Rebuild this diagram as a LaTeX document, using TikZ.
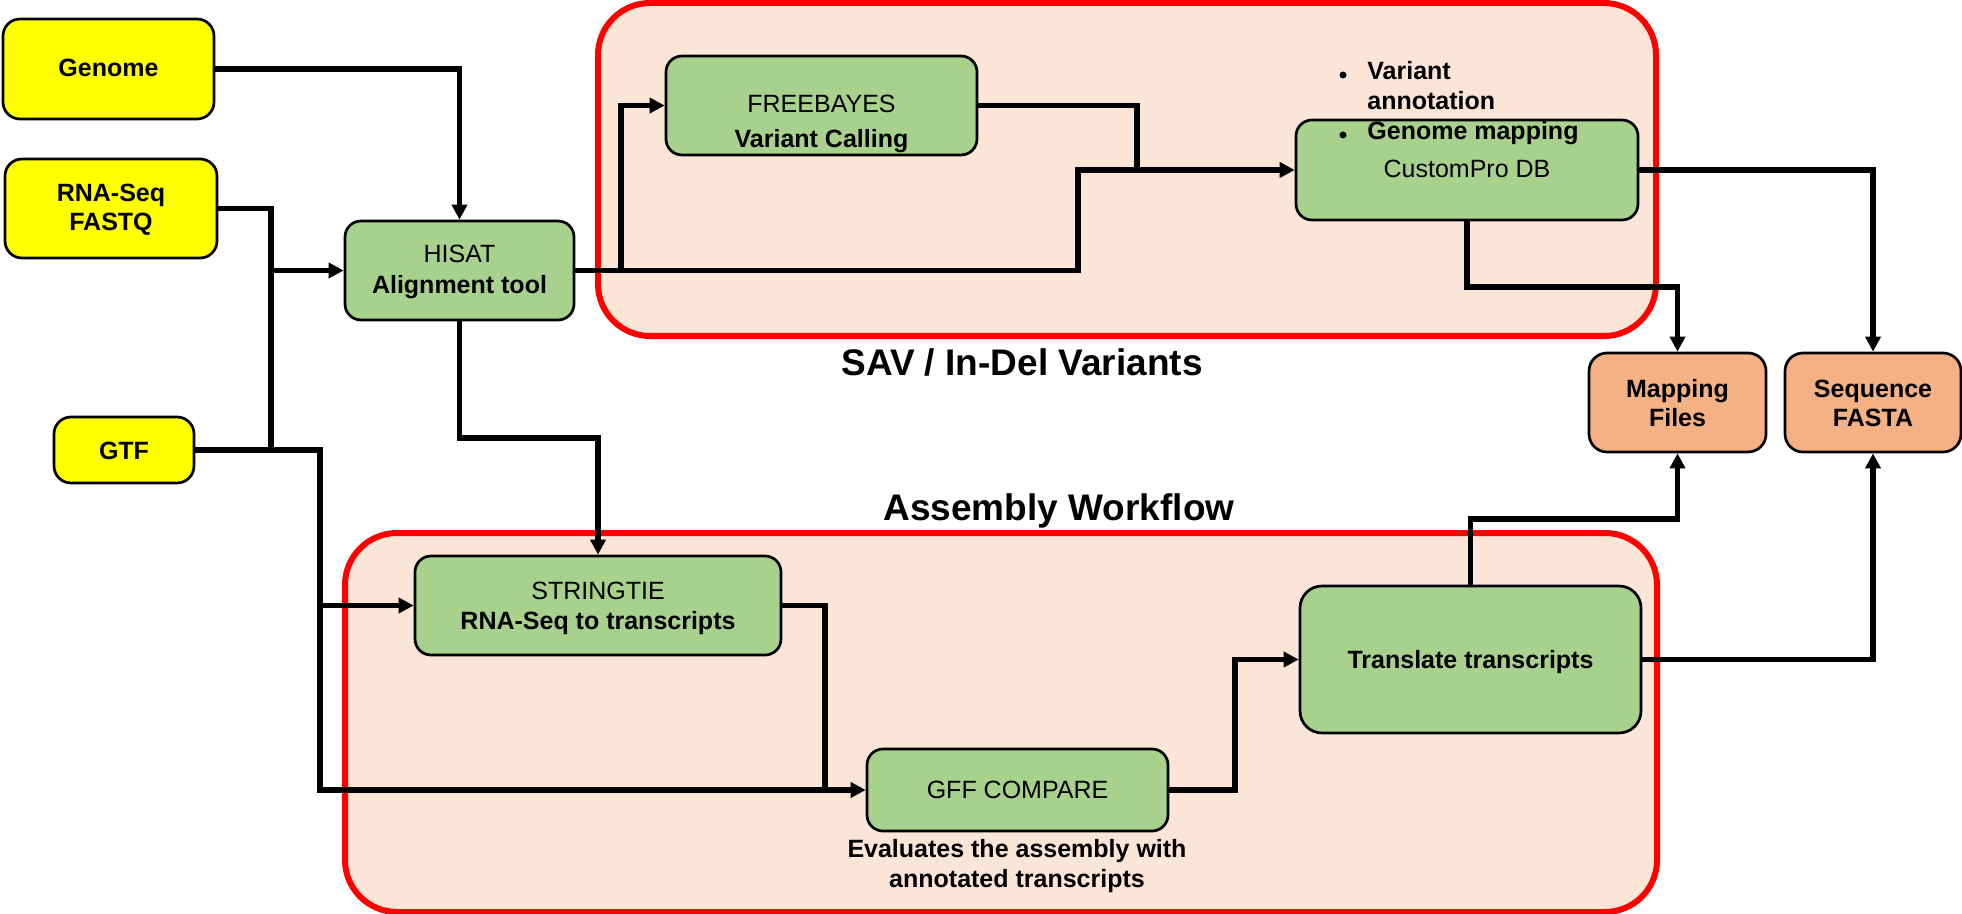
\documentclass[tikz,border=0pt]{standalone}
\usepackage{fontspec}
\setmainfont{Liberation Sans}
\usetikzlibrary{arrows.meta,fit}
\definecolor{inyellow}{HTML}{FFFF00}
\definecolor{stepgreen}{HTML}{A9D18E}
\definecolor{outorange}{HTML}{F4B183}
\definecolor{grpfill}{HTML}{FBE5D6}
\definecolor{grpred}{HTML}{FF0000}
\begin{document}
\begin{tikzpicture}[x=0.5pt,y=-0.5pt,
  grp/.style={draw=grpred, line width=3pt, fill=grpfill, rounded corners=26pt, inner sep=0pt},
  boxbase/.style={draw=black, line width=1.35pt, rectangle, inner sep=0pt},
  inbox/.style={boxbase, fill=inyellow, rounded corners=8.5pt},
  stepbox/.style={boxbase, fill=stepgreen, rounded corners=8pt},
  bigstep/.style={boxbase, fill=stepgreen, rounded corners=11pt},
  outbox/.style={boxbase, fill=outorange, rounded corners=9pt},
  bt/.style={font=\fontsize{12.5pt}{15pt}\selectfont\bfseries, anchor=base, inner sep=0pt},
  rt/.style={font=\fontsize{12.5pt}{15pt}\selectfont, anchor=base, inner sep=0pt},
  btl/.style={bt, anchor=base west},
  title/.style={font=\fontsize{18.5pt}{22pt}\selectfont\bfseries, anchor=base, inner sep=0pt},
  conn/.style={line width=2.8pt},
  arr/.style={conn, -{Triangle[length=7.5pt,width=7.5pt]}},
  dot/.style={circle, fill=black, inner sep=0pt, minimum size=3.5pt},
]
\useasboundingbox (0,0) rectangle (1962,914);

% groups
\node[grp, fit={(598,3) (1656,336)}] (savgrp) {};
\node[grp, fit={(345,533) (1657,912)}] (asmgrp) {};

% boxes
\node[inbox, fit={(3,19) (214,119)}] (genome) {};
\node[inbox, fit={(5,159) (217,258)}] (rna) {};
\node[inbox, fit={(54,417) (194,483)}] (gtf) {};
\node[stepbox, fit={(345,221) (574,320)}] (hisat) {};
\node[stepbox, fit={(666,56) (977,155)}] (freebayes) {};
\node[stepbox, fit={(1296,120) (1638,220)}] (custom) {};
\node[outbox, fit={(1589,353) (1766,452)}] (mapping) {};
\node[outbox, fit={(1785,353) (1961,452)}] (sequence) {};
\node[stepbox, fit={(415,556) (781,655)}] (stringtie) {};
\node[stepbox, fit={(867,749) (1168,831)}] (gff) {};
\node[bigstep, fit={(1300,586) (1641,733)}] (translate) {};

% texts
\node[bt] (tgenome) at (108.5,77) {Genome};
\node[bt] (trna1) at (111,202) {RNA-Seq};
\node[bt] (trna2) at (111,231) {FASTQ};
\node[bt] (tgtf) at (124,459) {GTF};
\node[rt] (thisat1) at (459.5,263) {HISAT};
\node[bt] (thisat2) at (459.5,293) {Alignment tool};
\node[rt] (tfree1) at (821.5,113) {FREEBAYES};
\node[bt] (tfree2) at (821.5,148) {Variant Calling};
\node[rt] (tcustom) at (1467,178) {CustomPro DB};
\node[dot] (b1) at (1343,75) {};
\node[dot] (b2) at (1343,135) {};
\node[btl] (tbul1) at (1367,80) {Variant};
\node[btl] (tbul2) at (1367,110) {annotation};
\node[btl] (tbul3) at (1367,140) {Genome mapping};
\node[bt] (tmap1) at (1677.5,397) {Mapping};
\node[bt] (tmap2) at (1677.5,426) {Files};
\node[bt] (tseq1) at (1873,397) {Sequence};
\node[bt] (tseq2) at (1873,426) {FASTA};
\node[rt] (tstr1) at (598,599) {STRINGTIE};
\node[bt] (tstr2) at (598,629) {RNA-Seq to transcripts};
\node[rt] (tgff) at (1017.5,798) {GFF COMPARE};
\node[bt] (teval1) at (1017,857) {Evaluates the assembly with};
\node[bt] (teval2) at (1017,887) {annotated transcripts};
\node[bt] (ttrans) at (1470.5,668) {Translate transcripts};
\node[title] (tsav) at (1022,375) {SAV / In-Del Variants};
\node[title] (tasm) at (1059,520) {Assembly Workflow};

% helper coordinates
\coordinate (vx) at (271,0);
\coordinate (vx2) at (320,0);
\coordinate (hy) at (0,438);
\coordinate (hx) at (1078,0);
\coordinate (bx) at (621,0);
\coordinate (fx) at (1137,0);
\coordinate (sx) at (825,0);
\coordinate (gx) at (1235,0);
\coordinate (ty) at (0,519);
\coordinate (cy) at (0,287);

% connectors
\draw[arr] (genome.east) -| (hisat.north);
\draw[arr] (rna.east) -| (vx |- hisat.west) -- (hisat.west);
\draw[conn] (gtf.east) -| (vx |- hisat.west);
\draw[arr] (gtf.east) -| (vx2 |- gff.west) -- (gff.west);
\draw[arr] (vx2 |- stringtie.west) -- (stringtie.west);
\draw[arr] (hisat.south) |- (stringtie.north |- hy) -- (stringtie.north);
\draw[arr] (hisat.east) -| (hx |- custom.west) -- (custom.west);
\draw[arr] (bx |- hisat.east) |- (freebayes.west);
\draw[conn] (freebayes.east) -| (fx |- custom.west);
\draw[conn] (stringtie.east) -| (sx |- gff.west);
\draw[arr] (gff.east) -| (gx |- translate.west) -- (translate.west);
\draw[arr] (translate.north) |- (mapping.south |- ty) -- (mapping.south);
\draw[arr] (translate.east) -| (sequence.south);
\draw[arr] (custom.south) |- (mapping.north |- cy) -- (mapping.north);
\draw[arr] (custom.east) -| (sequence.north);
\end{tikzpicture}
\end{document}
